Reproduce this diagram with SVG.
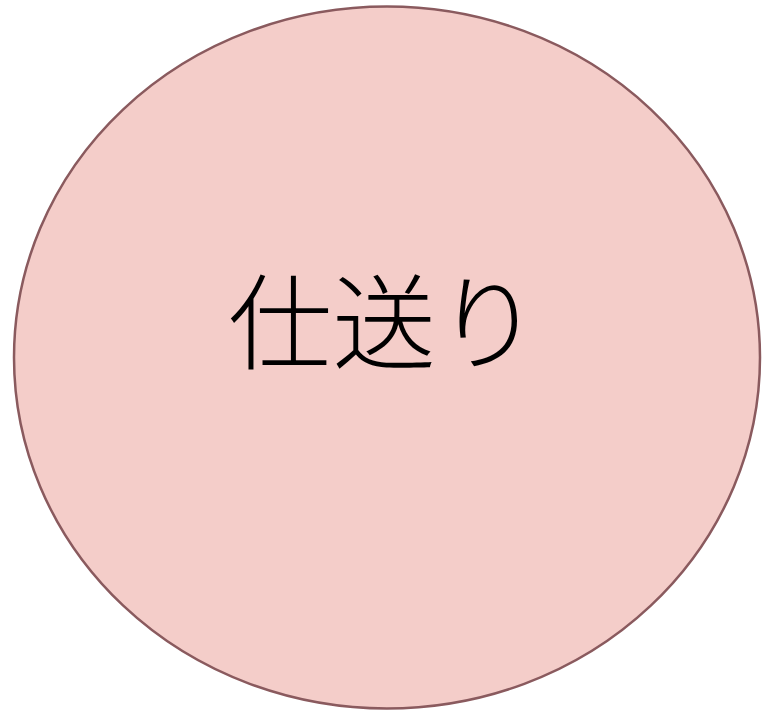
<svg xmlns="http://www.w3.org/2000/svg" width="762" height="711" viewBox="0 0 762 711">
<style>
.node-shape{fill:#F4CDC9;stroke:#8A5A5E;stroke-width:2.5}
.label{font-family:"Noto Sans CJK JP","Noto Sans CJK SC",sans-serif;font-size:104px;font-weight:300;fill:#000}
</style>
<rect width="762" height="711" fill="#fff"/>
<g id="node-shiokuri">
<ellipse class="node-shape" cx="387" cy="357.5" rx="373" ry="351"/>
<text class="label" x="384" y="334" text-anchor="middle" dominant-baseline="middle">仕送り</text>
</g>
<g id="connectors"/>
</svg>
